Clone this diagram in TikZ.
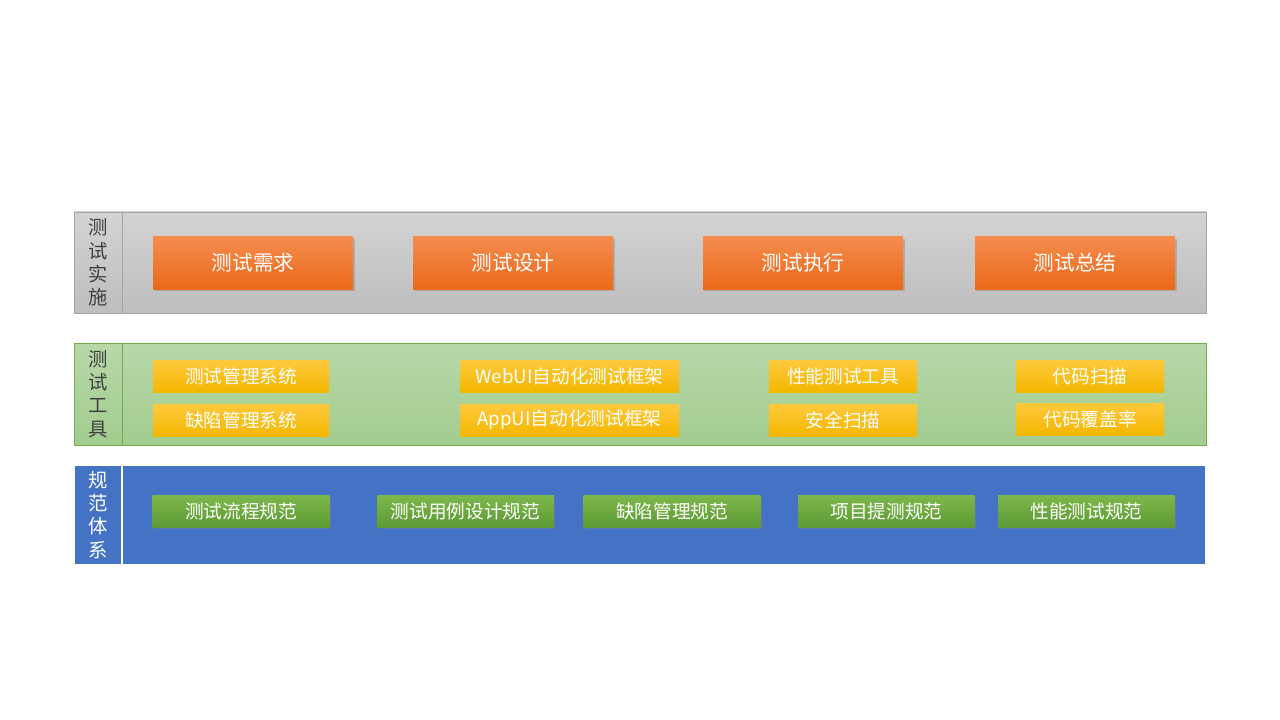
\documentclass[tikz,border=0pt]{standalone}
\usepackage{fontspec}
\setmainfont{Noto Sans CJK SC}
\usetikzlibrary{shadows}
\definecolor{grayT}{HTML}{D3D3D3}
\definecolor{grayB}{HTML}{BEBEBE}
\definecolor{grayL}{HTML}{A5A5A5}
\definecolor{grnT}{HTML}{B7D8A9}
\definecolor{grnB}{HTML}{A3CC8F}
\definecolor{grnL}{HTML}{72AD4A}
\definecolor{blueF}{HTML}{4472C4}
\definecolor{orT}{HTML}{F48B4D}
\definecolor{orB}{HTML}{EB6A1A}
\definecolor{yeT}{HTML}{FFC93D}
\definecolor{yeB}{HTML}{F3B700}
\definecolor{gbT}{HTML}{7DB84C}
\definecolor{gbB}{HTML}{5D9A34}
\definecolor{lbl}{HTML}{404040}
\tikzset{
  band/.style={rectangle, inner sep=0pt, outer sep=0pt},
  lab/.style={inner sep=0pt, align=center, font=\fontsize{14.5}{17.4}\selectfont},
  obox/.style={rectangle, inner sep=0pt, top color=orT, bottom color=orB, text=white,
    minimum width=150pt, minimum height=39pt, font=\fontsize{15.5}{18}\selectfont,
    drop shadow={shadow xshift=1.2pt, shadow yshift=-1.8pt, opacity=0.4}},
  ybox/.style={rectangle, inner sep=0pt, top color=yeT, bottom color=yeB, text=white,
    minimum height=24pt, font=\fontsize{14}{16}\selectfont},
  gbox/.style={rectangle, inner sep=0pt, top color=gbT, bottom color=gbB, text=white,
    minimum width=132.5pt, minimum height=24pt, font=\fontsize{14}{16}\selectfont,
    drop shadow={shadow xshift=1.2pt, shadow yshift=-1.8pt, opacity=0.4}},
}
\begin{document}
\begin{tikzpicture}[x=0.75pt, y=-0.75pt]
\useasboundingbox[fill=white] (0,0) rectangle (1280,720);
% top band
\node[band, top color=grayT, bottom color=grayB, draw=grayL, line width=0.6pt,
  minimum width=849pt, minimum height=75.75pt] (impl) at (640,262.5) {};
\draw[grayL, line width=0.6pt] (122,212) -- (122,313);
\node[lab, text=lbl] (implL) at (98,262.5) {测\\试\\实\\施};
\node[obox] (a1) at (253,263) {测试需求};
\node[obox] (a2) at (513,263) {测试设计};
\node[obox] (a3) at (803,263) {测试执行};
\node[obox] (a4) at (1075,263) {测试总结};
% middle band
\node[band, top color=grnT, bottom color=grnB, draw=grnL, line width=0.6pt,
  minimum width=849pt, minimum height=76.5pt] (tools) at (640,394) {};
\draw[grnL, line width=0.6pt] (122,343) -- (122,445);
\node[lab, text=lbl] (toolsL) at (98,394) {测\\试\\工\\具};
\node[ybox, minimum width=132pt] (b1) at (241,376) {测试管理系统};
\node[ybox, minimum width=132pt] (b2) at (241,420) {缺陷管理系统};
\node[ybox, minimum width=164.25pt] (b3) at (569.5,376) {WebUI自动化测试框架};
\node[ybox, minimum width=164.25pt] (b4) at (569.5,420) {AppUI自动化测试框架};
\node[ybox, minimum width=111pt] (b5) at (843,376) {性能测试工具};
\node[ybox, minimum width=111pt] (b6) at (843,420) {安全扫描};
\node[ybox, minimum width=111pt] (b7) at (1090,376) {代码扫描};
\node[ybox, minimum width=111pt] (b8) at (1090,419) {代码覆盖率};
% bottom band
\node[band, fill=blueF, minimum width=847.5pt, minimum height=73.5pt] (spec) at (640,515) {};
\draw[white, line width=1.8pt] (122,466) -- (122,564);
\node[lab, text=white] (specL) at (98,515) {规\\范\\体\\系};
\node[gbox] (c1) at (241,511) {测试流程规范};
\node[gbox] (c2) at (465.5,511) {测试用例设计规范};
\node[gbox] (c3) at (672,511) {缺陷管理规范};
\node[gbox] (c4) at (886.5,511) {项目提测规范};
\node[gbox] (c5) at (1086.5,511) {性能测试规范};
\end{tikzpicture}
\end{document}
